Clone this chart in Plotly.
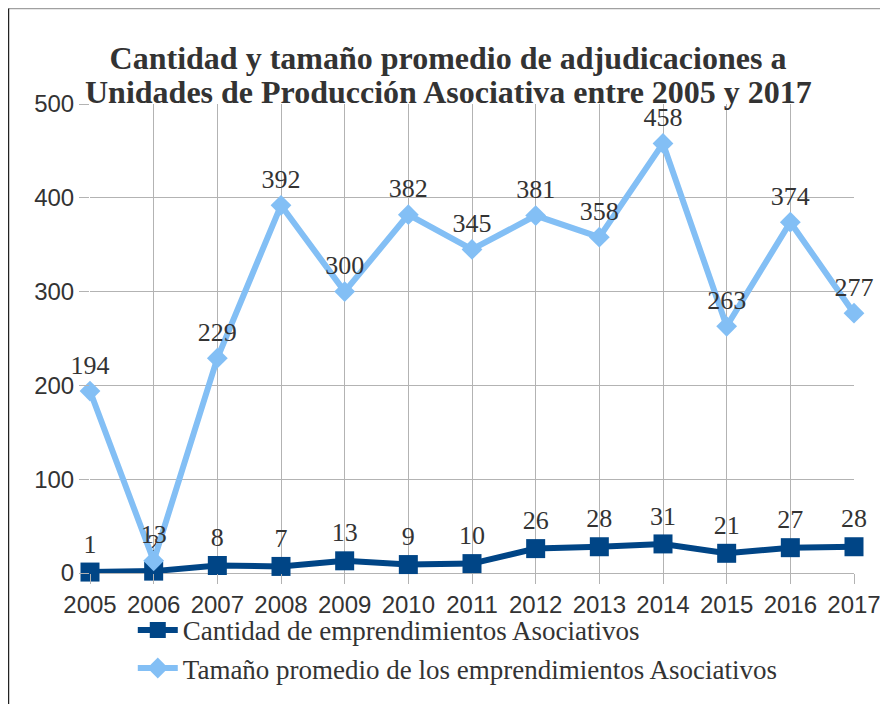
import plotly.graph_objects as go

years = [2005, 2006, 2007, 2008, 2009, 2010, 2011, 2012, 2013, 2014, 2015, 2016, 2017]
cantidad = [1, 2, 8, 7, 13, 9, 10, 26, 28, 31, 21, 27, 28]
tamano = [194, 13, 229, 392, 300, 382, 345, 381, 358, 458, 263, 374, 277]

title_line1 = "<b>Cantidad y tamaño promedio de adjudicaciones a</b>"
title_line2 = "<b>Unidades de Producción Asociativa entre 2005 y 2017</b>"

DARK = '#004586'
LIGHT = '#83bff5'
GRID = '#b3b3b3'
SERIF = 'Liberation Serif'
SANS = 'Liberation Sans'

fig = go.Figure()

fig.add_trace(go.Scatter(
    x=years, y=cantidad,
    mode='lines+markers+text',
    name='Cantidad de emprendimientos Asociativos',
    line=dict(color=DARK, width=6),
    marker=dict(symbol='square', size=19, color=DARK),
    text=[str(v) for v in cantidad],
    textposition='top center',
    textfont=dict(family=SERIF, size=26, color='#333333'),
    cliponaxis=False
))

fig.add_trace(go.Scatter(
    x=years, y=tamano,
    mode='lines+markers+text',
    name='Tamaño promedio de los emprendimientos Asociativos',
    line=dict(color=LIGHT, width=6),
    marker=dict(symbol='diamond', size=16, color=LIGHT),
    text=[str(v) for v in tamano],
    textposition='top center',
    textfont=dict(family=SERIF, size=26, color='#333333'),
    cliponaxis=False
))

# page body adds 8px, so the figure is 880x696
fig.update_layout(
    width=880, height=696,
    paper_bgcolor='white',
    plot_bgcolor='white',
    font=dict(family=SERIF, size=24, color='#333333'),
    title=dict(text=title_line1, x=0.5, xanchor='center', y=0.929, yanchor='middle',
               font=dict(family=SERIF, size=32, color='#333333')),
    margin=dict(l=82, r=34, t=96, b=131, autoexpand=False),
    xaxis=dict(
        range=[2005, 2017], tickmode='linear', tick0=2005, dtick=1,
        showgrid=True, gridcolor=GRID, gridwidth=1,
        ticks='outside', ticklen=10, tickcolor=GRID,
        showline=False, zeroline=False, tickangle=0,
        tickfont=dict(family=SANS, size=24, color='#333333')
    ),
    yaxis=dict(
        range=[0, 500], dtick=100,
        showgrid=True, gridcolor=GRID, gridwidth=1,
        ticks='outside', ticklen=10, tickcolor=GRID,
        zeroline=True, zerolinecolor=GRID, zerolinewidth=1,
        showline=False,
        tickfont=dict(family=SANS, size=24, color='#333333')
    ),
    legend=dict(
        x=0.056, xanchor='left', y=-0.070, yanchor='top',
        orientation='v',
        font=dict(family=SERIF, size=27, color='#333333'),
        tracegroupgap=4,
        itemwidth=40,
        bgcolor='rgba(0,0,0,0)'
    ),
    showlegend=True
)

# second title line, set closer to the first one
fig.add_annotation(text=title_line2, xref='paper', yref='paper',
                   x=0.4686, y=1.026, xanchor='center', yanchor='middle',
                   showarrow=False,
                   font=dict(family=SERIF, size=32, color='#333333'))

# outer frame of the original picture
fig.add_shape(type='line', xref='paper', yref='paper',
              x0=-0.1067, x1=1.05, y0=1.2036, y1=1.2036,
              line=dict(color='#a0a0a0', width=1.5))
fig.add_shape(type='line', xref='paper', yref='paper',
              x0=-0.1067, x1=-0.1067, y0=1.2036, y1=-0.3,
              line=dict(color='#222222', width=1.5))

fig.write_html("out.html")
